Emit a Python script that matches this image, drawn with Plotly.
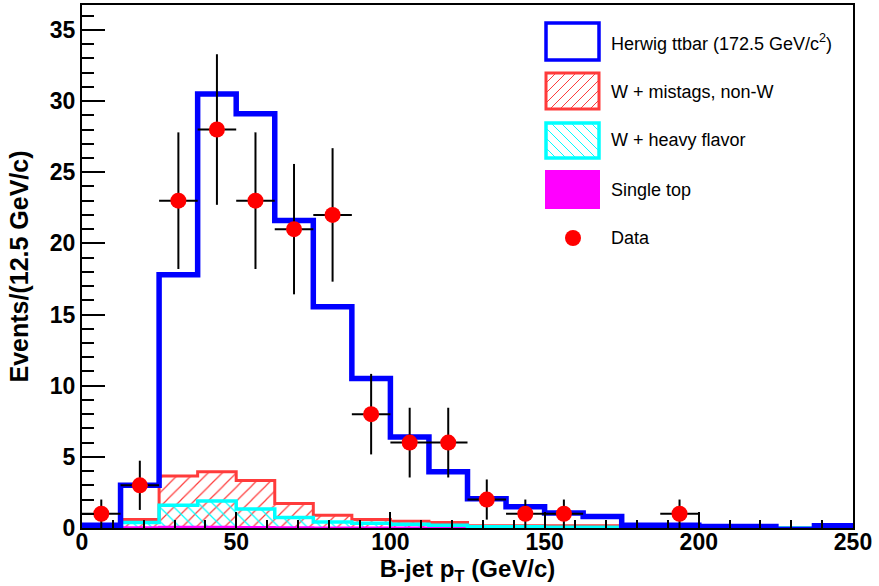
import plotly.graph_objects as go

# ---------------- data ----------------
bin_edges = [i * 12.5 for i in range(21)]          # 0 .. 250
bin_centers = [6.25 + i * 12.5 for i in range(20)]

herwig_ttbar = [0.2, 3.0, 17.8, 30.5, 29.1, 21.6, 15.55, 10.5, 6.4, 3.95,
                2.05, 1.5, 1.05, 0.8, 0.2, 0.2, 0.1, 0.1, -0.1, 0.15]
w_mistags = [0.0, 0.6, 3.65, 3.95, 3.33, 1.73, 0.9, 0.6, 0.48, 0.38,
             0.15, 0.15, 0.15, 0.15, 0.0, 0.0, 0.0, 0.0, 0.0, 0.0]
w_heavy = [0.0, 0.38, 1.6, 1.9, 1.33, 0.73, 0.42, 0.33, 0.26, 0.2,
           0.08, 0.08, 0.06, 0.05, 0.0, 0.0, 0.0, 0.0, 0.0, 0.0]
single_top = [0.03, 0.05, 0.08, 0.08, 0.07, 0.05, 0.04, 0.03, 0.03, 0.02,
              0.02, 0.02, 0.02, 0.02, 0.01, 0.01, 0.01, 0.01, 0.01, 0.01]

data_x = [6.25, 18.75, 31.25, 43.75, 56.25, 68.75, 81.25, 93.75, 106.25,
          118.75, 131.25, 143.75, 156.25, 193.75]
data_y = [1, 3, 23, 28, 23, 21, 22, 8, 6, 6, 2, 1, 1, 1]
data_err = [1.0, 1.73, 4.8, 5.29, 4.8, 4.58, 4.69, 2.83, 2.45, 2.45, 1.41, 1.0, 1.0, 1.0]
data_xerr = [6.25] * len(data_x)

legend_labels = ["Herwig ttbar (172.5 GeV/c<sup>2</sup>)", "W + mistags, non-W",
                 "W + heavy flavor", "Single top", "Data"]

x_range = [0, 250]
y_range = [0, 36.75]

# ---------------- styling ----------------
BLUE = "#0000FF"
RED = "#FF3b3b"
CYAN = "#00FFFF"
MAGENTA = "#FF00FF"
FONT = "Liberation Sans, Arial, Helvetica, sans-serif"

W, H = 879, 586
L, R, T, B = 82, 26, 5, 58
PX0, PX1, PY0, PY1 = L, W - R, T, H - B


def px(x):
    return (x - PX0) / (PX1 - PX0)


def py(y):
    return (PY1 - y) / (PY1 - PY0)


def step_xy(vals, start=0):
    xs = [bin_edges[start]]
    ys = [0.0]
    for i in range(start, len(vals)):
        xs.append(bin_edges[i])
        ys.append(vals[i])
    xs.append(bin_edges[-1])
    ys.append(vals[-1])
    return xs, ys


fig = go.Figure()

# hatched fills
fig.add_trace(go.Bar(x=bin_centers, y=w_mistags, width=12.5,
                     marker=dict(color="rgba(0,0,0,0)", line=dict(width=0),
                                 pattern=dict(shape="/", fgcolor=RED, size=10,
                                              solidity=0.12, fillmode="replace")),
                     showlegend=False, hoverinfo="skip"))
fig.add_trace(go.Bar(x=bin_centers, y=w_heavy, width=12.5,
                     marker=dict(color="rgba(0,0,0,0)", line=dict(width=0),
                                 pattern=dict(shape="\\", fgcolor=CYAN, size=10,
                                              solidity=0.12, fillmode="replace")),
                     showlegend=False, hoverinfo="skip"))
fig.add_trace(go.Bar(x=bin_centers, y=single_top, width=12.5,
                     marker=dict(color=MAGENTA, line=dict(width=0)),
                     showlegend=False, hoverinfo="skip"))

# outlines
xs, ys = step_xy(single_top)
fig.add_trace(go.Scatter(x=xs, y=ys, mode="lines", line=dict(color=MAGENTA, width=2, shape="hv"),
                         showlegend=False, hoverinfo="skip"))
xs, ys = step_xy(w_mistags, start=1)
fig.add_trace(go.Scatter(x=xs, y=ys, mode="lines", line=dict(color=RED, width=3, shape="hv"),
                         showlegend=False, hoverinfo="skip"))
xs, ys = step_xy(w_heavy, start=1)
fig.add_trace(go.Scatter(x=xs, y=ys, mode="lines", line=dict(color=CYAN, width=3.5, shape="hv"),
                         showlegend=False, hoverinfo="skip"))
xs, ys = step_xy(herwig_ttbar)
fig.add_trace(go.Scatter(x=xs, y=ys, mode="lines", line=dict(color=BLUE, width=5.5, shape="hv"),
                         showlegend=False, hoverinfo="skip"))

# data
fig.add_trace(go.Scatter(x=data_x, y=data_y, mode="markers",
                         marker=dict(color="#FF0000", size=16, line=dict(width=0)),
                         error_y=dict(type="data", array=data_err, color="black", thickness=2, width=0),
                         error_x=dict(type="data", array=data_xerr, color="black", thickness=2, width=0),
                         showlegend=False, hoverinfo="skip"))

# ---------------- custom legend ----------------
shapes = []
annotations = []
bx0, bx1 = 546, 599
rows = [(23, 60), (73, 109), (123, 158), (171, 208)]


def hatch(x0, y0, x1, y1, color, direction, spacing=10):
    h = y1 - y0
    out = []
    c = -h
    while c < (x1 - x0):
        t0 = max(0, -c)
        t1 = min(h, (x1 - x0) - c)
        if t1 > t0:
            if direction == "/":
                ax, ay = x0 + c + t0, y1 - t0
                bx, by = x0 + c + t1, y1 - t1
            else:
                ax, ay = x0 + c + t0, y0 + t0
                bx, by = x0 + c + t1, y0 + t1
            out.append(dict(type="line", xref="paper", yref="paper",
                            x0=px(ax), y0=py(ay), x1=px(bx), y1=py(by),
                            line=dict(color=color, width=1)))
        c += spacing
    return out


shapes += hatch(bx0, rows[1][0], bx1, rows[1][1], RED, "/")
shapes += hatch(bx0, rows[2][0], bx1, rows[2][1], CYAN, "\\")
box_styles = [(BLUE, 3.5, None), (RED, 3, None), (CYAN, 3.5, None), (MAGENTA, 2, MAGENTA)]
for (y0, y1), (col, lw, fill) in zip(rows, box_styles):
    shp = dict(type="rect", xref="paper", yref="paper",
               x0=px(bx0), x1=px(bx1), y0=py(y1), y1=py(y0),
               line=dict(color=col, width=lw))
    if fill:
        shp["fillcolor"] = fill
    shapes.append(shp)
# data marker in legend
cx, cy, r = 573, 238, 8
shapes.append(dict(type="circle", xref="paper", yref="paper",
                   x0=px(cx - r), x1=px(cx + r), y0=py(cy + r), y1=py(cy - r),
                   fillcolor="#FF0000", line=dict(width=0)))

text_y = [42, 92, 140, 190, 238]
for lab, ty in zip(legend_labels, text_y):
    annotations.append(dict(xref="paper", yref="paper", x=px(609), y=py(ty),
                            xanchor="left", yanchor="middle", text=lab, showarrow=False,
                            font=dict(family=FONT, size=18, color="black")))

fig.update_layout(
    width=W, height=H,
    margin=dict(l=L, r=R, t=T, b=B, autoexpand=False),
    paper_bgcolor="white", plot_bgcolor="white",
    barmode="overlay", bargap=0,
    showlegend=False,
    shapes=shapes, annotations=annotations,
    font=dict(family=FONT, color="black"),
)
fig.update_xaxes(
    range=x_range, showgrid=False, zeroline=False,
    showline=True, linewidth=2, linecolor="black", mirror=True,
    ticks="inside", ticklen=16, tickwidth=2, tickcolor="black", dtick=50, tick0=0,
    minor=dict(ticks="inside", ticklen=8, tickwidth=1.5, dtick=10, tickcolor="black"),
    tickfont=dict(family=FONT, size=23, weight="bold"),
    ticklabelstandoff=-8,
    title=dict(text="B-jet p<sub>T</sub> (GeV/c)", font=dict(family=FONT, size=24, weight="bold"),
               standoff=3),
)
fig.update_yaxes(
    range=y_range, showgrid=False, zeroline=False,
    showline=True, linewidth=2, linecolor="black", mirror=True,
    ticks="inside", ticklen=23, tickwidth=2, tickcolor="black", dtick=5, tick0=0,
    minor=dict(ticks="inside", ticklen=12, tickwidth=1.5, dtick=1, tickcolor="black"),
    tickfont=dict(family=FONT, size=23, weight="bold"),
    title=dict(text="Events/(12.5 GeV/c)", font=dict(family=FONT, size=25, weight="bold"),
               standoff=14),
)

fig.write_html("out.html")
